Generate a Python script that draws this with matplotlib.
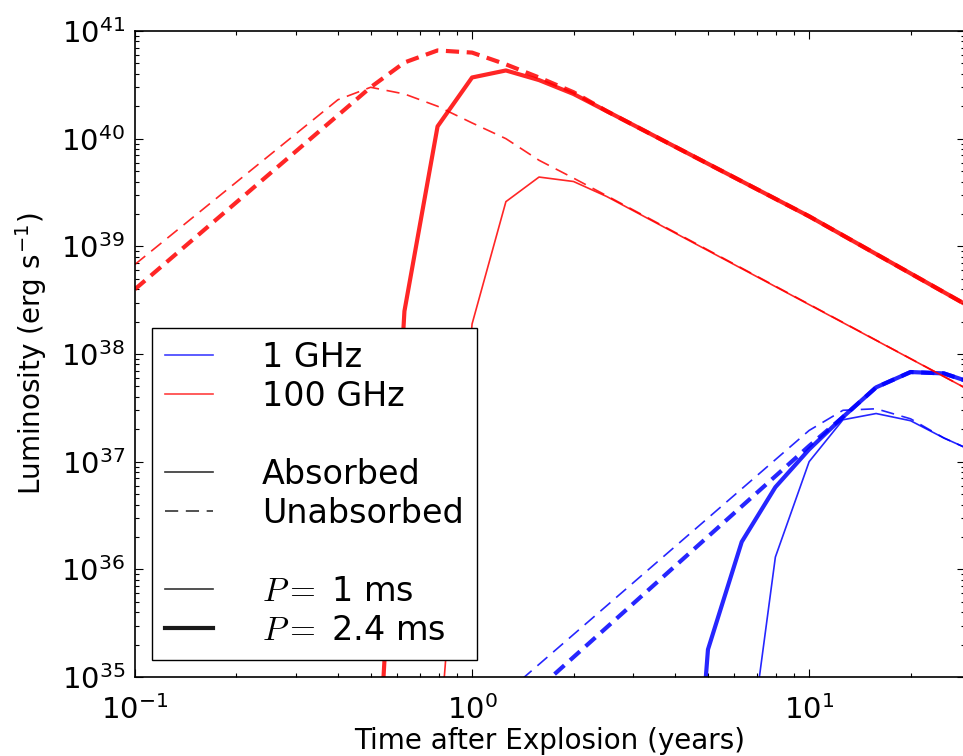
import numpy as np
import matplotlib
matplotlib.use('Agg')
import matplotlib.pyplot as plt
from matplotlib.lines import Line2D

plt.rcParams['font.family'] = ['DejaVu Sans']
plt.rcParams['mathtext.fontset'] = 'cm'
plt.rcParams['axes.unicode_minus'] = False
plt.rcParams['lines.scale_dashes'] = False

# time after explosion (years)
t_r24_abs = [0.5, 0.63, 0.79, 1.0, 1.26, 1.58, 2.0, 2.51, 3.98, 10.0, 31.6]
L_r24_abs = [8e32, 2.5e38, 1.3e40, 3.7e40, 4.3e40, 3.5e40, 2.6e40, 1.8e40, 8.5e39, 1.9e39, 2.5e38]

t_r24_unabs = [0.1, 0.5, 0.63, 0.79, 1.0, 1.26, 1.58, 2.0, 2.51, 3.98, 10.0, 31.6]
L_r24_unabs = [4.0e38, 3.0e40, 5.1e40, 6.6e40, 6.3e40, 4.9e40, 3.7e40, 2.7e40, 1.8e40, 8.5e39, 1.9e39, 2.5e38]

t_r1_abs = [0.79, 1.0, 1.26, 1.58, 2.0, 2.51, 31.6]
L_r1_abs = [1.6e34, 1.9e38, 2.6e39, 4.4e39, 4.0e39, 2.9e39, 4.2e37]

t_r1_unabs = [0.1, 0.4, 0.5, 0.63, 0.79, 1.0, 1.26, 1.58, 2.0, 2.51, 31.6]
L_r1_unabs = [6.8e38, 2.3e40, 3.0e40, 2.6e40, 2.0e40, 1.4e40, 1.0e40, 6.3e39, 4.3e39, 2.95e39, 4.2e37]

t_b24_abs = [3.98, 5.01, 6.31, 7.94, 10.0, 12.6, 15.8, 20.0, 25.1, 31.6]
L_b24_abs = [1.6e31, 1.8e35, 1.8e36, 5.8e36, 1.3e37, 2.6e37, 4.9e37, 6.8e37, 6.6e37, 5.2e37]

t_b24_unabs = [1.58, 10.0, 12.6, 15.8, 20.0, 25.1, 31.6]
L_b24_unabs = [7.9e34, 1.4e37, 2.6e37, 4.9e37, 6.8e37, 6.6e37, 5.2e37]

t_b1_abs = [6.31, 7.94, 10.0, 12.6, 15.8, 20.0, 25.1, 31.6]
L_b1_abs = [5.9e33, 1.3e36, 1.0e37, 2.45e37, 2.8e37, 2.4e37, 1.66e37, 1.2e37]

t_b1_unabs = [1.26, 10.0, 12.6, 15.8, 20.0, 25.1, 31.6]
L_b1_unabs = [7.1e34, 1.95e37, 3.0e37, 3.1e37, 2.5e37, 1.66e37, 1.2e37]

thin, thick = 1.2, 3.0
dash = (0, (9.5, 5.5))
a = 0.85

fig = plt.figure(figsize=(9.63, 7.56), dpi=100)
ax = fig.add_axes([135/963, 79/756, 830/963, 646/756])

ax.plot(t_b1_abs, L_b1_abs, color='b', lw=thin, alpha=a)
ax.plot(t_b1_unabs, L_b1_unabs, color='b', lw=thin, ls=dash, alpha=a)
ax.plot(t_b24_abs, L_b24_abs, color='b', lw=thick, alpha=a)
ax.plot(t_b24_unabs, L_b24_unabs, color='b', lw=thick, ls=dash, alpha=a)
ax.plot(t_r1_abs, L_r1_abs, color='r', lw=thin, alpha=a)
ax.plot(t_r1_unabs, L_r1_unabs, color='r', lw=thin, ls=dash, alpha=a)
ax.plot(t_r24_abs, L_r24_abs, color='r', lw=thick, alpha=a)
ax.plot(t_r24_unabs, L_r24_unabs, color='r', lw=thick, ls=dash, alpha=a)

ax.set_xscale('log')
ax.set_yscale('log')
ax.set_xlim(0.1, 29)
ax.set_ylim(1e35, 1e41)

ax.tick_params(which='both', direction='in', top=True, right=True, labelsize=21)
ax.tick_params(axis='y', which='both', pad=7)
ax.tick_params(axis='x', which='both', pad=13)
ax.tick_params(which='major', length=6, width=0.8)
ax.tick_params(which='minor', length=3, width=0.8)
for s in ax.spines.values():
    s.set_linewidth(1.2)

ax.set_xlabel('Time after Explosion (years)', fontsize=20, labelpad=1.5)
ax.set_ylabel(r'Luminosity (erg s$^{\mathdefault{-1}}$)', fontsize=20, labelpad=9)

handles = [
    Line2D([], [], color='b', lw=thin, alpha=0.75),
    Line2D([], [], color='r', lw=thin, alpha=0.75),
    Line2D([], [], color='none'),
    Line2D([], [], color='k', lw=thin, alpha=0.8),
    Line2D([], [], color='k', lw=thin, ls=dash, alpha=0.8),
    Line2D([], [], color='none'),
    Line2D([], [], color='k', lw=thin, alpha=0.8),
    Line2D([], [], color='k', lw=thick, alpha=0.9),
]
labels = ['1 GHz', '100 GHz', ' ', 'Absorbed', 'Unabsorbed', ' ',
          r'$P =$ 1 ms', r'$P =$ 2.4 ms']
leg = ax.legend(handles, labels, loc='lower left', fontsize=24, frameon=True,
                fancybox=False, framealpha=1, edgecolor='k',
                labelspacing=0.18, handlelength=1.45, handletextpad=1.45,
                borderpad=0.4, borderaxespad=0.5)
leg.get_frame().set_linewidth(1.0)

fig.savefig('out.png', dpi=100)
